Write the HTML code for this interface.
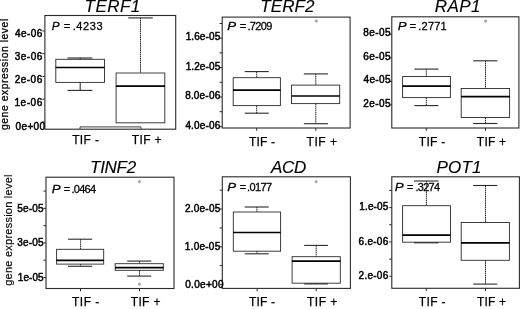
<!DOCTYPE html>
<html><head><meta charset="utf-8"><title>Box plots</title>
<style>
html,body{margin:0;padding:0;background:#fff;}
body{width:520px;height:309px;overflow:hidden;}
svg{display:block;}
svg text{font-family:"Liberation Sans",sans-serif;fill:#000;stroke:#000;stroke-width:0.45px;white-space:pre;}
</style></head><body>
<svg width="520" height="309" viewBox="0 0 520 309">
<defs><filter id="soft" x="0" y="0" width="520" height="309" filterUnits="userSpaceOnUse"><feGaussianBlur stdDeviation="0.3"/></filter></defs>
<rect x="0" y="0" width="520" height="309" fill="#fff"/>
<g filter="url(#soft)">
<rect x="44.9" y="15.5" width="130.8" height="113.7" fill="none" stroke="#2a2a2a" stroke-width="1.1"/>
<text x="84.57" y="12.0" font-size="17" letter-spacing="0.442" font-style="italic" style="stroke-width:0.15px">TERF1</text>
<text transform="translate(52.10,29.6) scale(1.068,1)" x="-0.33" y="0" font-size="11" font-style="italic" style="stroke-width:0.25px">P</text>
<text x="63.65" y="29.6" font-size="11" letter-spacing="0.000" style="stroke-width:0.28px">=</text>
<text x="72.71" y="29.6" font-size="11" letter-spacing="0.607" style="stroke-width:0.28px">.4233</text>
<line x1="42.3" y1="31.0" x2="44.9" y2="31.0" stroke="#2a2a2a" stroke-width="1.0" />
<line x1="42.3" y1="53.6" x2="44.9" y2="53.6" stroke="#2a2a2a" stroke-width="1.0" />
<line x1="42.3" y1="76.4" x2="44.9" y2="76.4" stroke="#2a2a2a" stroke-width="1.0" />
<line x1="42.3" y1="99.2" x2="44.9" y2="99.2" stroke="#2a2a2a" stroke-width="1.0" />
<line x1="42.3" y1="121.9" x2="44.9" y2="121.9" stroke="#2a2a2a" stroke-width="1.0" />
<text x="15.00" y="37.3" font-size="10" letter-spacing="0.412" style="stroke-width:0.48px">4e-06</text>
<text x="14.80" y="59.9" font-size="10" letter-spacing="0.462" style="stroke-width:0.48px">3e-06</text>
<text x="14.70" y="82.7" font-size="10" letter-spacing="0.487" style="stroke-width:0.48px">2e-06</text>
<text x="14.45" y="105.5" font-size="10" letter-spacing="0.550" style="stroke-width:0.48px">1e-06</text>
<text x="15.60" y="129.5" font-size="10" letter-spacing="0.338" style="stroke-width:0.48px">0e+00</text>
<rect x="55.8" y="59.3" width="48.7" height="23.1" fill="none" stroke="#2a2a2a" stroke-width="0.9"/>
<line x1="55.6" y1="67.5" x2="104.7" y2="67.5" stroke="#000" stroke-width="1.7" />
<line x1="67.5" y1="58.0" x2="92.4" y2="58.0" stroke="#2a2a2a" stroke-width="1.1" />
<line x1="80.2" y1="58.0" x2="80.2" y2="59.3" stroke="#222" stroke-width="1.0" />
<line x1="67.5" y1="90.4" x2="92.4" y2="90.4" stroke="#2a2a2a" stroke-width="1.1" />
<line x1="80.2" y1="82.4" x2="80.2" y2="90.4" stroke="#222" stroke-width="1.0" />
<rect x="116.1" y="73.0" width="48.7" height="49.8" fill="none" stroke="#2a2a2a" stroke-width="0.9"/>
<line x1="115.9" y1="86.2" x2="165.0" y2="86.2" stroke="#000" stroke-width="1.7" />
<line x1="128.2" y1="17.9" x2="152.8" y2="17.9" stroke="#2a2a2a" stroke-width="1.1" />
<line x1="140.5" y1="17.9" x2="140.5" y2="73.0" stroke="#222" stroke-width="1.0" stroke-dasharray="1.5 0.6"/>
<line x1="80.0" y1="126.9" x2="141.0" y2="126.9" stroke="#2a2a2a" stroke-width="0.9" />
<line x1="80.0" y1="126.9" x2="80.0" y2="129.2" stroke="#2a2a2a" stroke-width="0.8" />
<line x1="141.0" y1="126.9" x2="141.0" y2="129.2" stroke="#2a2a2a" stroke-width="0.8" />
<text x="72.16" y="144.0" font-size="12" letter-spacing="0.365" style="stroke-width:0.25px">TIF -</text>
<text x="131.76" y="144.0" font-size="12" letter-spacing="0.380" style="stroke-width:0.25px">TIF +</text>
<text transform="translate(8.1,129.6) rotate(-90)" x="-0.42" y="0" font-size="10.4" letter-spacing="0.536" style="stroke-width:0.28px">gene expression level</text>
<rect x="222.2" y="17.1" width="127.9" height="110.9" fill="none" stroke="#2a2a2a" stroke-width="1.1"/>
<text x="260.37" y="12.3" font-size="17" letter-spacing="0.045" font-style="italic" style="stroke-width:0.15px">TERF2</text>
<text transform="translate(227.60,29.8) scale(1.212,1)" x="-0.33" y="0" font-size="11" font-style="italic" style="stroke-width:0.25px">P</text>
<text x="239.65" y="29.8" font-size="11" letter-spacing="0.000" style="stroke-width:0.28px">=</text>
<text x="247.41" y="29.8" font-size="11" letter-spacing="-0.654" style="stroke-width:0.28px">.7209</text>
<line x1="219.6" y1="23.5" x2="222.2" y2="23.5" stroke="#2a2a2a" stroke-width="1.0" />
<line x1="219.6" y1="38.2" x2="222.2" y2="38.2" stroke="#2a2a2a" stroke-width="1.0" />
<line x1="219.6" y1="52.9" x2="222.2" y2="52.9" stroke="#2a2a2a" stroke-width="1.0" />
<line x1="219.6" y1="67.6" x2="222.2" y2="67.6" stroke="#2a2a2a" stroke-width="1.0" />
<line x1="219.6" y1="82.3" x2="222.2" y2="82.3" stroke="#2a2a2a" stroke-width="1.0" />
<line x1="219.6" y1="97.0" x2="222.2" y2="97.0" stroke="#2a2a2a" stroke-width="1.0" />
<line x1="219.6" y1="111.7" x2="222.2" y2="111.7" stroke="#2a2a2a" stroke-width="1.0" />
<line x1="219.6" y1="126.6" x2="222.2" y2="126.6" stroke="#2a2a2a" stroke-width="1.0" />
<text x="185.65" y="40.1" font-size="10" letter-spacing="0.108" style="stroke-width:0.48px">1.6e-05</text>
<text x="185.65" y="69.7" font-size="10" letter-spacing="0.108" style="stroke-width:0.48px">1.2e-05</text>
<text x="185.15" y="99.1" font-size="10" letter-spacing="0.192" style="stroke-width:0.48px">8.0e-06</text>
<text x="185.40" y="128.6" font-size="10" letter-spacing="0.150" style="stroke-width:0.48px">4.0e-06</text>
<rect x="233.2" y="77.7" width="47.2" height="27.9" fill="none" stroke="#2a2a2a" stroke-width="0.9"/>
<line x1="233.0" y1="90.1" x2="280.6" y2="90.1" stroke="#000" stroke-width="1.7" />
<line x1="244.7" y1="71.6" x2="268.8" y2="71.6" stroke="#2a2a2a" stroke-width="1.1" />
<line x1="256.7" y1="71.6" x2="256.7" y2="77.7" stroke="#222" stroke-width="1.0" stroke-dasharray="1.5 0.6"/>
<line x1="244.7" y1="113.2" x2="268.8" y2="113.2" stroke="#2a2a2a" stroke-width="1.1" />
<line x1="256.7" y1="105.6" x2="256.7" y2="113.2" stroke="#222" stroke-width="1.0" stroke-dasharray="1.5 0.6"/>
<rect x="291.5" y="85.1" width="48.2" height="18.5" fill="none" stroke="#2a2a2a" stroke-width="0.9"/>
<line x1="291.3" y1="96.0" x2="339.9" y2="96.0" stroke="#000" stroke-width="1.7" />
<line x1="303.8" y1="73.9" x2="327.9" y2="73.9" stroke="#2a2a2a" stroke-width="1.1" />
<line x1="315.8" y1="73.9" x2="315.8" y2="85.1" stroke="#222" stroke-width="1.0" stroke-dasharray="1.5 0.6"/>
<line x1="303.8" y1="123.7" x2="327.9" y2="123.7" stroke="#2a2a2a" stroke-width="1.1" />
<line x1="315.8" y1="103.6" x2="315.8" y2="123.7" stroke="#222" stroke-width="1.0" stroke-dasharray="1.5 0.6"/>
<circle cx="316.2" cy="21.1" r="1.1" fill="#bbb" stroke="#777" stroke-width="0.6"/>
<line x1="256.7" y1="128.0" x2="256.7" y2="130.8" stroke="#2a2a2a" stroke-width="1.0" />
<line x1="315.8" y1="128.0" x2="315.8" y2="130.8" stroke="#2a2a2a" stroke-width="1.0" />
<text x="249.06" y="145.5" font-size="12" letter-spacing="0.140" style="stroke-width:0.25px">TIF -</text>
<text x="306.56" y="145.5" font-size="12" letter-spacing="0.530" style="stroke-width:0.25px">TIF +</text>
<rect x="391.8" y="16.8" width="127.1" height="111.2" fill="none" stroke="#2a2a2a" stroke-width="1.1"/>
<text x="434.79" y="12.3" font-size="17" letter-spacing="0.428" font-style="italic" style="stroke-width:0.15px">RAP1</text>
<text transform="translate(398.10,29.8) scale(1.198,1)" x="-0.33" y="0" font-size="11" font-style="italic" style="stroke-width:0.25px">P</text>
<text x="409.65" y="29.8" font-size="11" letter-spacing="0.000" style="stroke-width:0.28px">=</text>
<text x="418.31" y="29.8" font-size="11" letter-spacing="0.221" style="stroke-width:0.28px">.2771</text>
<line x1="389.2" y1="34.3" x2="391.8" y2="34.3" stroke="#2a2a2a" stroke-width="1.0" />
<line x1="389.2" y1="57.9" x2="391.8" y2="57.9" stroke="#2a2a2a" stroke-width="1.0" />
<line x1="389.2" y1="81.5" x2="391.8" y2="81.5" stroke="#2a2a2a" stroke-width="1.0" />
<line x1="389.2" y1="105.1" x2="391.8" y2="105.1" stroke="#2a2a2a" stroke-width="1.0" />
<text x="363.25" y="36.1" font-size="10" letter-spacing="0.425" style="stroke-width:0.48px">8e-05</text>
<text x="363.20" y="59.7" font-size="10" letter-spacing="0.438" style="stroke-width:0.48px">6e-05</text>
<text x="363.50" y="83.3" font-size="10" letter-spacing="0.363" style="stroke-width:0.48px">4e-05</text>
<text x="363.20" y="106.9" font-size="10" letter-spacing="0.438" style="stroke-width:0.48px">2e-05</text>
<rect x="402.6" y="76.5" width="47.8" height="21.1" fill="none" stroke="#2a2a2a" stroke-width="0.9"/>
<line x1="402.4" y1="86.1" x2="450.6" y2="86.1" stroke="#000" stroke-width="1.7" />
<line x1="414.3" y1="69.1" x2="438.4" y2="69.1" stroke="#2a2a2a" stroke-width="1.1" />
<line x1="426.3" y1="69.1" x2="426.3" y2="76.5" stroke="#222" stroke-width="1.0" stroke-dasharray="1.5 0.6"/>
<line x1="414.3" y1="105.6" x2="438.4" y2="105.6" stroke="#2a2a2a" stroke-width="1.1" />
<line x1="426.3" y1="97.6" x2="426.3" y2="105.6" stroke="#222" stroke-width="1.0" stroke-dasharray="1.5 0.6"/>
<rect x="461.2" y="88.5" width="48.4" height="29.0" fill="none" stroke="#2a2a2a" stroke-width="0.9"/>
<line x1="461.0" y1="96.7" x2="509.8" y2="96.7" stroke="#000" stroke-width="1.7" />
<line x1="473.2" y1="60.8" x2="497.3" y2="60.8" stroke="#2a2a2a" stroke-width="1.1" />
<line x1="485.5" y1="60.8" x2="485.5" y2="88.5" stroke="#222" stroke-width="1.0" stroke-dasharray="1.5 0.6"/>
<line x1="473.2" y1="123.5" x2="497.3" y2="123.5" stroke="#2a2a2a" stroke-width="1.1" />
<line x1="485.5" y1="117.5" x2="485.5" y2="123.5" stroke="#222" stroke-width="1.0" stroke-dasharray="1.5 0.6"/>
<circle cx="485.6" cy="21.2" r="1.1" fill="#bbb" stroke="#777" stroke-width="0.6"/>
<line x1="426.3" y1="128.0" x2="426.3" y2="130.8" stroke="#2a2a2a" stroke-width="1.0" />
<line x1="485.5" y1="128.0" x2="485.5" y2="130.8" stroke="#2a2a2a" stroke-width="1.0" />
<text x="418.86" y="145.5" font-size="12" letter-spacing="0.290" style="stroke-width:0.25px">TIF -</text>
<text x="476.86" y="145.5" font-size="12" letter-spacing="0.205" style="stroke-width:0.25px">TIF +</text>
<rect x="46.0" y="177.2" width="128.0" height="111.3" fill="none" stroke="#2a2a2a" stroke-width="1.1"/>
<text x="90.07" y="172.7" font-size="17" letter-spacing="-0.297" font-style="italic" style="stroke-width:0.15px">TINF2</text>
<text transform="translate(52.10,192.7) scale(1.212,1)" x="-0.33" y="0" font-size="11" font-style="italic" style="stroke-width:0.25px">P</text>
<text x="63.65" y="192.7" font-size="11" letter-spacing="0.000" style="stroke-width:0.28px">=</text>
<text x="71.41" y="192.7" font-size="11" letter-spacing="-0.695" style="stroke-width:0.28px">.0464</text>
<line x1="43.4" y1="191.1" x2="46.0" y2="191.1" stroke="#2a2a2a" stroke-width="1.0" />
<line x1="43.4" y1="208.4" x2="46.0" y2="208.4" stroke="#2a2a2a" stroke-width="1.0" />
<line x1="43.4" y1="225.7" x2="46.0" y2="225.7" stroke="#2a2a2a" stroke-width="1.0" />
<line x1="43.4" y1="242.9" x2="46.0" y2="242.9" stroke="#2a2a2a" stroke-width="1.0" />
<line x1="43.4" y1="260.2" x2="46.0" y2="260.2" stroke="#2a2a2a" stroke-width="1.0" />
<line x1="43.4" y1="277.5" x2="46.0" y2="277.5" stroke="#2a2a2a" stroke-width="1.0" />
<text x="17.30" y="211.5" font-size="10" letter-spacing="0.188" style="stroke-width:0.48px">5e-05</text>
<text x="17.30" y="246.0" font-size="10" letter-spacing="0.188" style="stroke-width:0.48px">3e-05</text>
<text x="17.75" y="280.5" font-size="10" letter-spacing="0.075" style="stroke-width:0.48px">1e-05</text>
<rect x="56.6" y="249.3" width="47.1" height="14.8" fill="none" stroke="#2a2a2a" stroke-width="0.9"/>
<line x1="56.4" y1="260.4" x2="103.9" y2="260.4" stroke="#000" stroke-width="1.7" />
<line x1="68.0" y1="239.2" x2="92.2" y2="239.2" stroke="#2a2a2a" stroke-width="1.1" />
<line x1="80.6" y1="239.2" x2="80.6" y2="249.3" stroke="#222" stroke-width="1.0" stroke-dasharray="1.5 0.6"/>
<line x1="68.0" y1="266.3" x2="92.2" y2="266.3" stroke="#2a2a2a" stroke-width="1.1" />
<line x1="80.6" y1="264.1" x2="80.6" y2="266.3" stroke="#222" stroke-width="1.0" stroke-dasharray="1.5 0.6"/>
<rect x="115.2" y="263.7" width="48.1" height="6.6" fill="none" stroke="#2a2a2a" stroke-width="0.9"/>
<line x1="115.0" y1="267.6" x2="163.5" y2="267.6" stroke="#000" stroke-width="1.7" />
<line x1="127.2" y1="261.1" x2="151.3" y2="261.1" stroke="#2a2a2a" stroke-width="1.1" />
<line x1="139.5" y1="261.1" x2="139.5" y2="263.7" stroke="#222" stroke-width="1.0" stroke-dasharray="1.5 0.6"/>
<line x1="127.2" y1="276.1" x2="151.3" y2="276.1" stroke="#2a2a2a" stroke-width="1.1" />
<line x1="139.5" y1="270.3" x2="139.5" y2="276.1" stroke="#222" stroke-width="1.0" stroke-dasharray="1.5 0.6"/>
<circle cx="139.4" cy="181.7" r="1.1" fill="#bbb" stroke="#777" stroke-width="0.6"/>
<circle cx="139.5" cy="284.3" r="1.1" fill="#bbb" stroke="#777" stroke-width="0.6"/>
<line x1="80.5" y1="288.5" x2="80.5" y2="291.3" stroke="#2a2a2a" stroke-width="1.0" />
<line x1="139.5" y1="288.5" x2="139.5" y2="291.3" stroke="#2a2a2a" stroke-width="1.0" />
<text x="72.06" y="305.5" font-size="12" letter-spacing="0.490" style="stroke-width:0.25px">TIF -</text>
<text x="130.76" y="305.5" font-size="12" letter-spacing="0.330" style="stroke-width:0.25px">TIF +</text>
<text transform="translate(12.2,285.3) rotate(-90)" x="-0.44" y="0" font-size="11" letter-spacing="0.239" style="stroke-width:0.15px">gene expression level</text>
<rect x="222.3" y="176.8" width="128.1" height="111.6" fill="none" stroke="#2a2a2a" stroke-width="1.1"/>
<text x="270.95" y="172.7" font-size="17" letter-spacing="-0.255" font-style="italic" style="stroke-width:0.15px">ACD</text>
<text transform="translate(227.60,191.4) scale(1.212,1)" x="-0.33" y="0" font-size="11" font-style="italic" style="stroke-width:0.25px">P</text>
<text x="239.65" y="191.4" font-size="11" letter-spacing="0.000" style="stroke-width:0.28px">=</text>
<text x="247.01" y="191.4" font-size="11" letter-spacing="-0.615" style="stroke-width:0.28px">.0177</text>
<line x1="219.7" y1="190.2" x2="222.3" y2="190.2" stroke="#2a2a2a" stroke-width="1.0" />
<line x1="219.7" y1="209.0" x2="222.3" y2="209.0" stroke="#2a2a2a" stroke-width="1.0" />
<line x1="219.7" y1="227.9" x2="222.3" y2="227.9" stroke="#2a2a2a" stroke-width="1.0" />
<line x1="219.7" y1="246.8" x2="222.3" y2="246.8" stroke="#2a2a2a" stroke-width="1.0" />
<line x1="219.7" y1="265.6" x2="222.3" y2="265.6" stroke="#2a2a2a" stroke-width="1.0" />
<line x1="219.7" y1="284.6" x2="222.3" y2="284.6" stroke="#2a2a2a" stroke-width="1.0" />
<text x="185.10" y="212.3" font-size="10" letter-spacing="0.200" style="stroke-width:0.48px">2.0e-05</text>
<text x="184.85" y="250.1" font-size="10" letter-spacing="0.242" style="stroke-width:0.48px">1.0e-05</text>
<text x="185.20" y="288.0" font-size="10" letter-spacing="0.325" style="stroke-width:0.48px">0.0e+00</text>
<rect x="233.3" y="212.0" width="47.3" height="39.2" fill="none" stroke="#2a2a2a" stroke-width="0.9"/>
<line x1="233.1" y1="232.5" x2="280.8" y2="232.5" stroke="#000" stroke-width="1.7" />
<line x1="244.7" y1="207.0" x2="268.7" y2="207.0" stroke="#2a2a2a" stroke-width="1.1" />
<line x1="256.9" y1="207.0" x2="256.9" y2="212.0" stroke="#222" stroke-width="1.0" stroke-dasharray="1.5 0.6"/>
<line x1="244.7" y1="253.8" x2="268.7" y2="253.8" stroke="#2a2a2a" stroke-width="1.1" />
<line x1="256.9" y1="251.2" x2="256.9" y2="253.8" stroke="#222" stroke-width="1.0" stroke-dasharray="1.5 0.6"/>
<rect x="292.1" y="256.7" width="48.2" height="26.5" fill="none" stroke="#2a2a2a" stroke-width="0.9"/>
<line x1="291.9" y1="261.1" x2="340.5" y2="261.1" stroke="#000" stroke-width="1.7" />
<line x1="304.2" y1="245.4" x2="327.9" y2="245.4" stroke="#2a2a2a" stroke-width="1.1" />
<line x1="316.2" y1="245.4" x2="316.2" y2="256.7" stroke="#222" stroke-width="1.0" stroke-dasharray="1.5 0.6"/>
<line x1="304.2" y1="283.9" x2="327.9" y2="283.9" stroke="#2a2a2a" stroke-width="1.1" />
<line x1="316.2" y1="283.2" x2="316.2" y2="283.9" stroke="#222" stroke-width="1.0" stroke-dasharray="1.5 0.6"/>
<circle cx="316.2" cy="181.7" r="1.1" fill="#bbb" stroke="#777" stroke-width="0.6"/>
<line x1="257.1" y1="288.4" x2="257.1" y2="291.2" stroke="#2a2a2a" stroke-width="1.0" />
<line x1="316.2" y1="288.4" x2="316.2" y2="291.2" stroke="#2a2a2a" stroke-width="1.0" />
<text x="249.06" y="305.6" font-size="12" letter-spacing="0.140" style="stroke-width:0.25px">TIF -</text>
<text x="306.96" y="305.6" font-size="12" letter-spacing="0.505" style="stroke-width:0.25px">TIF +</text>
<rect x="391.8" y="176.8" width="127.6" height="111.5" fill="none" stroke="#2a2a2a" stroke-width="1.1"/>
<text x="436.59" y="172.7" font-size="17" letter-spacing="0.162" font-style="italic" style="stroke-width:0.15px">POT1</text>
<text transform="translate(395.20,191.4) scale(1.212,1)" x="-0.33" y="0" font-size="11" font-style="italic" style="stroke-width:0.25px">P</text>
<text x="407.05" y="191.4" font-size="11" letter-spacing="0.000" style="stroke-width:0.28px">=</text>
<text x="415.41" y="191.4" font-size="11" letter-spacing="-0.695" style="stroke-width:0.28px">.3274</text>
<line x1="389.2" y1="190.4" x2="391.8" y2="190.4" stroke="#2a2a2a" stroke-width="1.0" />
<line x1="389.2" y1="207.6" x2="391.8" y2="207.6" stroke="#2a2a2a" stroke-width="1.0" />
<line x1="389.2" y1="224.8" x2="391.8" y2="224.8" stroke="#2a2a2a" stroke-width="1.0" />
<line x1="389.2" y1="242.0" x2="391.8" y2="242.0" stroke="#2a2a2a" stroke-width="1.0" />
<line x1="389.2" y1="259.2" x2="391.8" y2="259.2" stroke="#2a2a2a" stroke-width="1.0" />
<line x1="389.2" y1="276.3" x2="391.8" y2="276.3" stroke="#2a2a2a" stroke-width="1.0" />
<text x="359.35" y="210.3" font-size="10" letter-spacing="0.100" style="stroke-width:0.48px">1.e-05</text>
<text x="358.60" y="244.8" font-size="10" letter-spacing="0.250" style="stroke-width:0.48px">6.e-06</text>
<text x="358.60" y="279.2" font-size="10" letter-spacing="0.250" style="stroke-width:0.48px">2.e-06</text>
<rect x="402.6" y="205.7" width="47.9" height="36.5" fill="none" stroke="#2a2a2a" stroke-width="0.9"/>
<line x1="402.4" y1="235.1" x2="450.7" y2="235.1" stroke="#000" stroke-width="1.7" />
<line x1="414.0" y1="181.0" x2="438.5" y2="181.0" stroke="#2a2a2a" stroke-width="1.1" />
<line x1="426.4" y1="181.0" x2="426.4" y2="205.7" stroke="#222" stroke-width="1.0" stroke-dasharray="1.5 0.6"/>
<line x1="414.0" y1="242.8" x2="438.5" y2="242.8" stroke="#2a2a2a" stroke-width="1.1" />
<line x1="426.4" y1="242.2" x2="426.4" y2="242.8" stroke="#222" stroke-width="1.0" stroke-dasharray="1.5 0.6"/>
<rect x="461.2" y="222.5" width="48.2" height="37.8" fill="none" stroke="#2a2a2a" stroke-width="0.9"/>
<line x1="461.0" y1="242.8" x2="509.6" y2="242.8" stroke="#000" stroke-width="1.7" />
<line x1="473.2" y1="185.5" x2="497.3" y2="185.5" stroke="#2a2a2a" stroke-width="1.1" />
<line x1="485.5" y1="185.5" x2="485.5" y2="222.5" stroke="#222" stroke-width="1.0" stroke-dasharray="1.5 0.6"/>
<line x1="473.2" y1="284.1" x2="497.3" y2="284.1" stroke="#2a2a2a" stroke-width="1.1" />
<line x1="485.5" y1="260.3" x2="485.5" y2="284.1" stroke="#222" stroke-width="1.0" stroke-dasharray="1.5 0.6"/>
<line x1="426.3" y1="288.3" x2="426.3" y2="291.1" stroke="#2a2a2a" stroke-width="1.0" />
<line x1="485.5" y1="288.3" x2="485.5" y2="291.1" stroke="#2a2a2a" stroke-width="1.0" />
<text x="418.76" y="305.6" font-size="12" letter-spacing="0.365" style="stroke-width:0.25px">TIF -</text>
<text x="477.06" y="305.6" font-size="12" letter-spacing="0.155" style="stroke-width:0.25px">TIF +</text>
</g>
</svg>
</body></html>
